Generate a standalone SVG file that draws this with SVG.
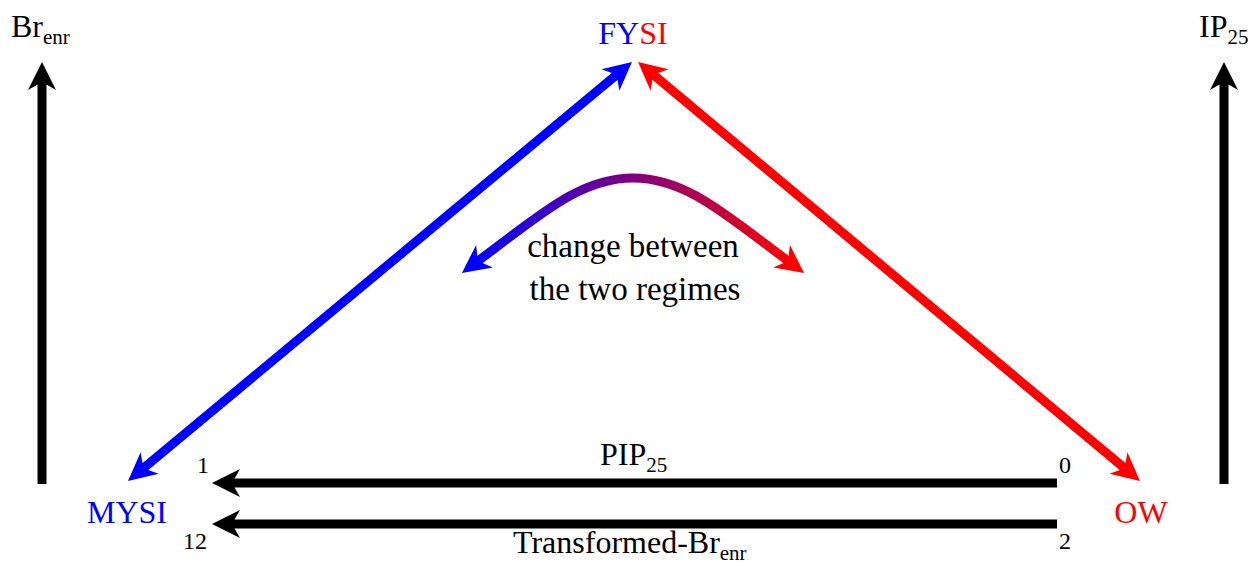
<svg xmlns="http://www.w3.org/2000/svg" width="1252" height="565" viewBox="0 0 1252 565">
<style>
text{font-family:"Liberation Serif","Times New Roman",serif;font-size:32px;fill:#000}
.big{font-size:33px}
.sub{font-size:21px}
.num{font-size:24px}
.blue{fill:#0000ff}
.red{fill:#ff0000}
.k{stroke:#000;stroke-width:9;fill:none}
.b{stroke:#0000ff;stroke-width:9;fill:none}
.r{stroke:#ff0000;stroke-width:9;fill:none}
</style>
<defs>
<marker id="ak" markerUnits="userSpaceOnUse" markerWidth="30" markerHeight="30" viewBox="0 -15 30 30" refX="8" refY="0" orient="auto-start-reverse" overflow="visible"><path d="M28,0 L0,-14 L8,0 L0,14 Z" fill="#000"/></marker>
<marker id="ab" markerUnits="userSpaceOnUse" markerWidth="30" markerHeight="30" viewBox="0 -15 30 30" refX="8" refY="0" orient="auto-start-reverse" overflow="visible"><path d="M28,0 L0,-14 L8,0 L0,14 Z" fill="#0000ff"/></marker>
<marker id="ar" markerUnits="userSpaceOnUse" markerWidth="30" markerHeight="30" viewBox="0 -15 30 30" refX="8" refY="0" orient="auto-start-reverse" overflow="visible"><path d="M28,0 L0,-14 L8,0 L0,14 Z" fill="#ff0000"/></marker>
<linearGradient id="g" gradientUnits="userSpaceOnUse" x1="470" y1="0" x2="796" y2="0"><stop offset="0" stop-color="#0000ff"/><stop offset="1" stop-color="#ff0000"/></linearGradient>
</defs>
<g id="connectors">
<line class="k" x1="42" y1="484" x2="42" y2="82" marker-end="url(#ak)"/>
<line class="k" x1="1224" y1="484" x2="1224" y2="82" marker-end="url(#ak)"/>
<line class="b" x1="143.4" y1="468.2" x2="616.6" y2="74.8" marker-start="url(#ab)" marker-end="url(#ab)"/>
<line class="r" x1="653.4" y1="74.8" x2="1124.6" y2="468.2" marker-start="url(#ar)" marker-end="url(#ar)"/>
<line class="k" x1="1057" y1="483" x2="232" y2="483" marker-end="url(#ak)"/>
<line class="k" x1="1057" y1="524" x2="232" y2="524" marker-end="url(#ak)"/>
<path d="M478,261 C540,215 580,178 633,178 C686,178 726,215 788,261" stroke="url(#g)" stroke-width="9" fill="none" marker-start="url(#ab)" marker-end="url(#ar)"/>
</g>
<g id="node-brenr"><text x="11" y="37">Br<tspan class="sub" dy="7">enr</tspan></text></g>
<g id="node-ip25"><text x="1199" y="37">IP<tspan class="sub" dy="7">25</tspan></text></g>
<g id="node-fysi"><text x="633" y="44" text-anchor="middle"><tspan class="blue">FY</tspan><tspan class="red">SI</tspan></text></g>
<g id="node-mysi"><text x="127" y="523" text-anchor="middle" class="blue">MYSI</text></g>
<g id="node-ow"><text x="1141" y="523" text-anchor="middle" class="red">OW</text></g>
<g id="label-change"><text class="big" x="633" y="257" text-anchor="middle">change between</text><text class="big" x="635" y="300" text-anchor="middle">the two regimes</text></g>
<g id="label-pip"><text x="600" y="465">PIP<tspan class="sub" dy="7">25</tspan></text></g>
<g id="label-trans"><text x="513" y="553">Transformed-Br<tspan class="sub" dy="7">enr</tspan></text></g>
<g id="labels-num">
<text class="num" x="203" y="473" text-anchor="middle">1</text>
<text class="num" x="195" y="549" text-anchor="middle">12</text>
<text class="num" x="1065" y="473" text-anchor="middle">0</text>
<text class="num" x="1065" y="549" text-anchor="middle">2</text>
</g>
</svg>
